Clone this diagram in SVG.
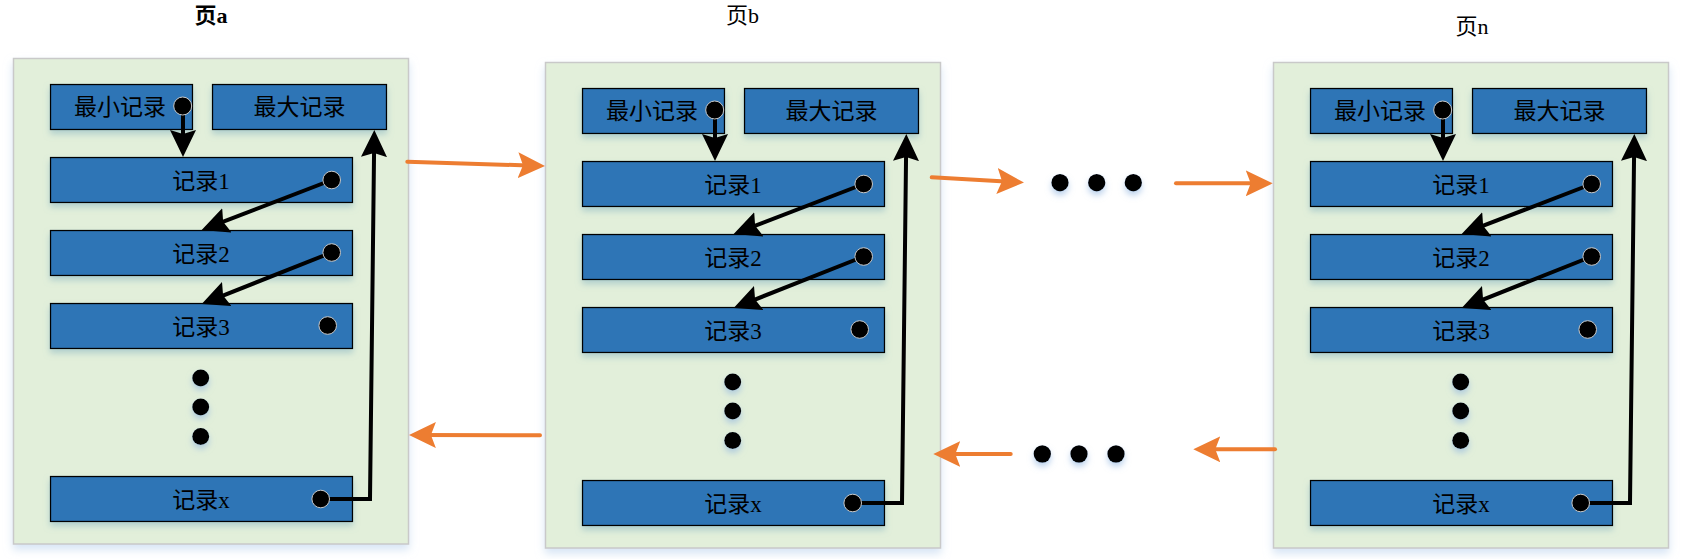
<svg xmlns="http://www.w3.org/2000/svg" width="1682" height="559" viewBox="0 0 1682 559">
<style>
.page{fill:#E2EFDA;stroke:#C9C9C9;stroke-width:1.5;filter:url(#pshadow)}
.rec{fill:#2E75B6;stroke:#000;stroke-width:1.3;filter:url(#bshadow)}
.lbl{font-family:"Liberation Serif","Noto Sans CJK SC",serif;font-size:23px;fill:#000;text-anchor:middle}
.title{font-family:"Liberation Serif","Noto Sans CJK SC",serif;font-size:22px;fill:#000;text-anchor:middle}
.pt{fill:#000;stroke:#C8C8C8;stroke-width:1}
.vdot{fill:#000;filter:url(#dshadow)}
.blk{fill:none;stroke:#000;stroke-width:4;marker-end:url(#ah)}
.org{fill:none;stroke:#ED7D31;stroke-width:4;stroke-linecap:round;marker-end:url(#ao)}
</style>
<defs>
<filter id="pshadow" x="-10%" y="-10%" width="120%" height="125%">
<feDropShadow dx="0" dy="5" stdDeviation="4" flood-color="#BCD3EE" flood-opacity="0.6"/>
</filter>
<filter id="bshadow" x="-10%" y="-30%" width="120%" height="180%">
<feDropShadow dx="0" dy="4" stdDeviation="3" flood-color="#7FAFC0" flood-opacity="0.5"/>
</filter>
<filter id="dshadow" x="-50%" y="-50%" width="200%" height="220%">
<feDropShadow dx="0" dy="4" stdDeviation="3" flood-color="#8FB4E0" flood-opacity="0.6"/>
</filter>
<marker id="ah" viewBox="0 0 27 26" refX="17" refY="13" markerWidth="27" markerHeight="26" markerUnits="userSpaceOnUse" orient="auto">
<path d="M0,0 L27,13 L0,26 L4,13 z" fill="#000"/>
</marker>
<marker id="ao" viewBox="0 0 27 26" refX="17" refY="13" markerWidth="27" markerHeight="26" markerUnits="userSpaceOnUse" orient="auto">
<path d="M0,0 L27,13 L0,26 L5,13 z" fill="#ED7D31"/>
</marker>
</defs>
<rect width="1682" height="559" fill="#FFFFFF"/>

<g id="titles">
<text class="title" x="211" y="23" font-weight="bold">页a</text>
<text class="title" x="742.5" y="23">页b</text>
<text class="title" x="1472" y="34">页n</text>
</g>

<g id="page-a">
<rect class="page" x="13.5" y="58.5" width="395" height="485.5"/>
<g id="a-min"><rect class="rec" x="50.5" y="84.5" width="142" height="45"/><text class="lbl" x="120" y="115">最小记录</text></g>
<g id="a-max"><rect class="rec" x="212.5" y="84.5" width="174" height="45"/><text class="lbl" x="299.5" y="115">最大记录</text></g>
<g id="a-rec1"><rect class="rec" x="50.5" y="157.5" width="302" height="45"/><text class="lbl" x="201" y="188.5">记录1</text></g>
<g id="a-rec2"><rect class="rec" x="50.5" y="230.5" width="302" height="45"/><text class="lbl" x="201" y="261.5">记录2</text></g>
<g id="a-rec3"><rect class="rec" x="50.5" y="303.5" width="302" height="45"/><text class="lbl" x="201" y="334.5">记录3</text></g>
<g id="a-recx"><rect class="rec" x="50.5" y="476.5" width="302" height="45"/><text class="lbl" x="201" y="507.5">记录x</text></g>
<g id="a-ellipsis"><circle class="vdot" cx="200.7" cy="378" r="8.5"/><circle class="vdot" cx="200.7" cy="407" r="8.5"/><circle class="vdot" cx="200.7" cy="436.5" r="8.5"/></g>
</g>

<g id="page-b" transform="translate(532,4)">
<rect class="page" x="13.5" y="58.5" width="395" height="485.5"/>
<g id="b-min"><rect class="rec" x="50.5" y="84.5" width="142" height="45"/><text class="lbl" x="120" y="115">最小记录</text></g>
<g id="b-max"><rect class="rec" x="212.5" y="84.5" width="174" height="45"/><text class="lbl" x="299.5" y="115">最大记录</text></g>
<g id="b-rec1"><rect class="rec" x="50.5" y="157.5" width="302" height="45"/><text class="lbl" x="201" y="188.5">记录1</text></g>
<g id="b-rec2"><rect class="rec" x="50.5" y="230.5" width="302" height="45"/><text class="lbl" x="201" y="261.5">记录2</text></g>
<g id="b-rec3"><rect class="rec" x="50.5" y="303.5" width="302" height="45"/><text class="lbl" x="201" y="334.5">记录3</text></g>
<g id="b-recx"><rect class="rec" x="50.5" y="476.5" width="302" height="45"/><text class="lbl" x="201" y="507.5">记录x</text></g>
<g id="b-ellipsis"><circle class="vdot" cx="200.7" cy="378" r="8.5"/><circle class="vdot" cx="200.7" cy="407" r="8.5"/><circle class="vdot" cx="200.7" cy="436.5" r="8.5"/></g>
</g>

<g id="page-n" transform="translate(1260,4)">
<rect class="page" x="13.5" y="58.5" width="395" height="485.5"/>
<g id="n-min"><rect class="rec" x="50.5" y="84.5" width="142" height="45"/><text class="lbl" x="120" y="115">最小记录</text></g>
<g id="n-max"><rect class="rec" x="212.5" y="84.5" width="174" height="45"/><text class="lbl" x="299.5" y="115">最大记录</text></g>
<g id="n-rec1"><rect class="rec" x="50.5" y="157.5" width="302" height="45"/><text class="lbl" x="201" y="188.5">记录1</text></g>
<g id="n-rec2"><rect class="rec" x="50.5" y="230.5" width="302" height="45"/><text class="lbl" x="201" y="261.5">记录2</text></g>
<g id="n-rec3"><rect class="rec" x="50.5" y="303.5" width="302" height="45"/><text class="lbl" x="201" y="334.5">记录3</text></g>
<g id="n-recx"><rect class="rec" x="50.5" y="476.5" width="302" height="45"/><text class="lbl" x="201" y="507.5">记录x</text></g>
<g id="n-ellipsis"><circle class="vdot" cx="200.7" cy="378" r="8.5"/><circle class="vdot" cx="200.7" cy="407" r="8.5"/><circle class="vdot" cx="200.7" cy="436.5" r="8.5"/></g>
</g>

<g id="between-dots">
<circle class="vdot" cx="1060" cy="182.7" r="8.7"/><circle class="vdot" cx="1096.7" cy="182.7" r="8.7"/><circle class="vdot" cx="1133.3" cy="182.7" r="8.7"/>
<circle class="vdot" cx="1042.3" cy="454" r="8.7"/><circle class="vdot" cx="1079" cy="454" r="8.7"/><circle class="vdot" cx="1116" cy="454" r="8.7"/>
</g>

<g id="connectors">
<g id="links-a">
<path class="blk" d="M183,106 V147"/>
<path class="blk" d="M331.7,180 L211,226.4"/>
<path class="blk" d="M331.7,252.5 L211,300.3"/>
<path class="blk" d="M320.7,499 H370 L374.2,140"/>
<circle class="pt" cx="182.7" cy="106" r="9"/><circle class="pt" cx="331.7" cy="180" r="8.8"/><circle class="pt" cx="331.7" cy="252.5" r="8.8"/><circle class="pt" cx="327.7" cy="325.5" r="8.8"/><circle class="pt" cx="320.7" cy="499" r="8.8"/>
</g>
<g id="links-b" transform="translate(532,4)">
<path class="blk" d="M183,106 V147"/>
<path class="blk" d="M331.7,180 L211,226.4"/>
<path class="blk" d="M331.7,252.5 L211,300.3"/>
<path class="blk" d="M320.7,499 H370 L374.2,140"/>
<circle class="pt" cx="182.7" cy="106" r="9"/><circle class="pt" cx="331.7" cy="180" r="8.8"/><circle class="pt" cx="331.7" cy="252.5" r="8.8"/><circle class="pt" cx="327.7" cy="325.5" r="8.8"/><circle class="pt" cx="320.7" cy="499" r="8.8"/>
</g>
<g id="links-n" transform="translate(1260,4)">
<path class="blk" d="M183,106 V147"/>
<path class="blk" d="M331.7,180 L211,226.4"/>
<path class="blk" d="M331.7,252.5 L211,300.3"/>
<path class="blk" d="M320.7,499 H370 L374.2,140"/>
<circle class="pt" cx="182.7" cy="106" r="9"/><circle class="pt" cx="331.7" cy="180" r="8.8"/><circle class="pt" cx="331.7" cy="252.5" r="8.8"/><circle class="pt" cx="327.7" cy="325.5" r="8.8"/><circle class="pt" cx="320.7" cy="499" r="8.8"/>
</g>
<g id="page-links">
<path class="org" d="M407.3,161.7 L535,165.7"/>
<path class="org" d="M540,435.3 L418.9,435"/>
<path class="org" d="M931.7,177.3 L1014,182"/>
<path class="org" d="M1176,183.3 L1262.7,183.3"/>
<path class="org" d="M1275,449.3 L1203.3,449.3"/>
<path class="org" d="M1010.7,454 L943.3,454"/>
</g>
</g>
</svg>
